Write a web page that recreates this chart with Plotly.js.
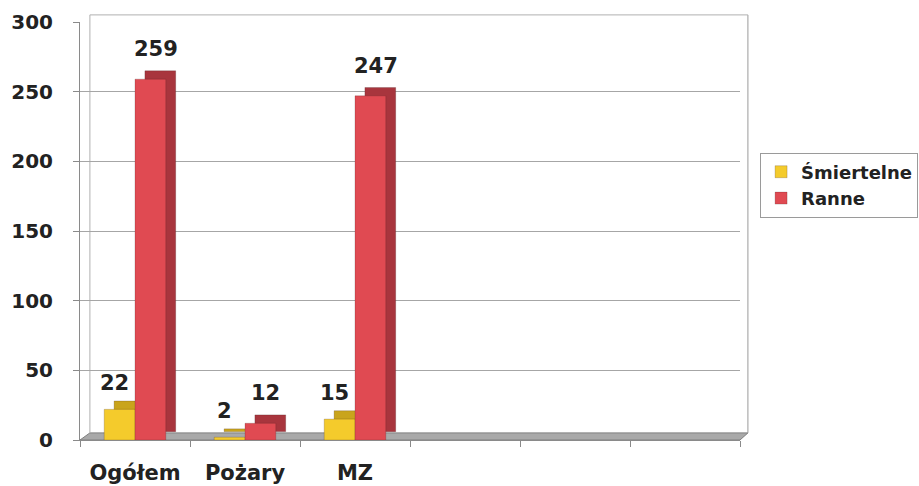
<!DOCTYPE html>
<html>
<head>
<meta charset="utf-8">
<script src="https://cdn.plot.ly/plotly-3.0.1.min.js"></script>
<style>html,body{margin:0;padding:0;background:#fff;}#chart{width:919px;height:486px;}</style>
</head>
<body>
<div id="chart"></div>
<script>
// ---- data ----
const categories = ['Ogółem', 'Pożary', 'MZ'];
const slotCount = 6; // the chart keeps three empty category slots on the right
const smiertelne = [22, 2, 15];
const ranne = [259, 12, 247];
const seriesNames = ['Śmiertelne', 'Ranne'];
const yTicks = [0, 50, 100, 150, 200, 250, 300];

// ---- style ----
const FONT = 'DejaVu Sans, Verdana, sans-serif';
const W = 0.28;      // bar width (category units)
const DX = 0.09;     // 3D depth, horizontal
const DY = 6;        // 3D depth, vertical (value units)
const colors = {
  yFront: '#f4cb2c', ySide: '#c9a41c',
  rFront: '#e04a52', rSide: '#a8353d'
};
const xIdx = categories.map((c, i) => i);

function bar(vals, offset, color, name, opts) {
  return Object.assign({
    type: 'bar', x: xIdx, y: vals, width: W, offset: offset,
    marker: {color: color, line: {color: 'rgba(60,30,30,0.35)', width: 0.6}},
    name: name, hoverinfo: 'skip'
  }, opts || {});
}

const traces = [
  // depth (side + top) faces
  bar(smiertelne, -W + DX, colors.ySide, '', {showlegend: false, base: DY}),
  bar(ranne, DX, colors.rSide, '', {showlegend: false, base: DY}),
  // front faces
  bar(smiertelne, -W, colors.yFront, seriesNames[0]),
  bar(ranne, 0, colors.rFront, seriesNames[1])
];

const annotations = [];
smiertelne.forEach((v, i) => annotations.push({
  x: i - W / 2 - 0.05, y: v, text: String(v), showarrow: false, yanchor: 'bottom', yshift: 12,
  font: {family: FONT, size: 21, weight: 'bold', color: '#222'}
}));
ranne.forEach((v, i) => annotations.push({
  x: i + W / 2 + 0.05, y: v, text: String(v), showarrow: false, yanchor: 'bottom', yshift: 16,
  font: {family: FONT, size: 21, weight: 'bold', color: '#222'}
}));

const layout = {
  width: 919, height: 486,
  margin: {l: 80, r: 179, t: 22, b: 46},
  paper_bgcolor: '#fff', plot_bgcolor: '#fff',
  barmode: 'overlay',
  showlegend: true,
  legend: {
    xref: 'container', x: 0.999, xanchor: 'right', y: 0.61, yanchor: 'middle',
    bgcolor: '#fff', bordercolor: '#9a9a9a', borderwidth: 1,
    font: {family: FONT, size: 18, weight: 'bold', color: '#222'},
    itemwidth: 30, tracegroupgap: 2
  },
  xaxis: {
    range: [-0.5, slotCount - 0.5],
    tickmode: 'array', tickvals: xIdx, ticktext: categories,
    ticks: '', ticklabelstandoff: 14,
    tickfont: {family: FONT, size: 21, weight: 'bold', color: '#222'},
    showgrid: false, zeroline: false,
    showline: true, linecolor: '#8a8a8a', linewidth: 1,
    minor: {tick0: -0.5, dtick: 1, ticks: 'outside', ticklen: 6, tickcolor: '#8a8a8a', showgrid: false},
    fixedrange: true
  },
  yaxis: {
    range: [0, 300],
    tickmode: 'array', tickvals: yTicks,
    ticks: 'outside', ticklen: 6, tickcolor: '#8a8a8a', ticklabelstandoff: 16,
    tickfont: {family: FONT, size: 20, weight: 'bold', color: '#222'},
    showgrid: true, gridcolor: '#a6a6a6', gridwidth: 1,
    zeroline: false,
    showline: true, linecolor: '#8a8a8a', linewidth: 1,
    fixedrange: true
  },
  shapes: [
    // grey floor
    {type: 'path', xref: 'paper', yref: 'paper',
     path: 'M 0 0 L 1 0 L 1.012 0.017 L 0.015 0.017 Z',
     fillcolor: '#a9a9a9', line: {color: '#7f7f7f', width: 1}, layer: 'below'},
    // back wall edges
    {type: 'line', xref: 'paper', yref: 'paper', x0: 0.015, x1: 0.015, y0: 0.017, y1: 1.017,
     line: {color: '#b0b0b0', width: 1}, layer: 'below'},
    {type: 'line', xref: 'paper', yref: 'paper', x0: 1.012, x1: 1.012, y0: 0.017, y1: 1.017,
     line: {color: '#9a9a9a', width: 1}, layer: 'below'},
    {type: 'line', xref: 'paper', yref: 'paper', x0: 0.015, x1: 1.012, y0: 1.017, y1: 1.017,
     line: {color: '#b0b0b0', width: 1}, layer: 'below'}
  ],
  annotations: annotations
};

Plotly.newPlot('chart', traces, layout, {staticPlot: true, displayModeBar: false});
</script>
</body>
</html>
